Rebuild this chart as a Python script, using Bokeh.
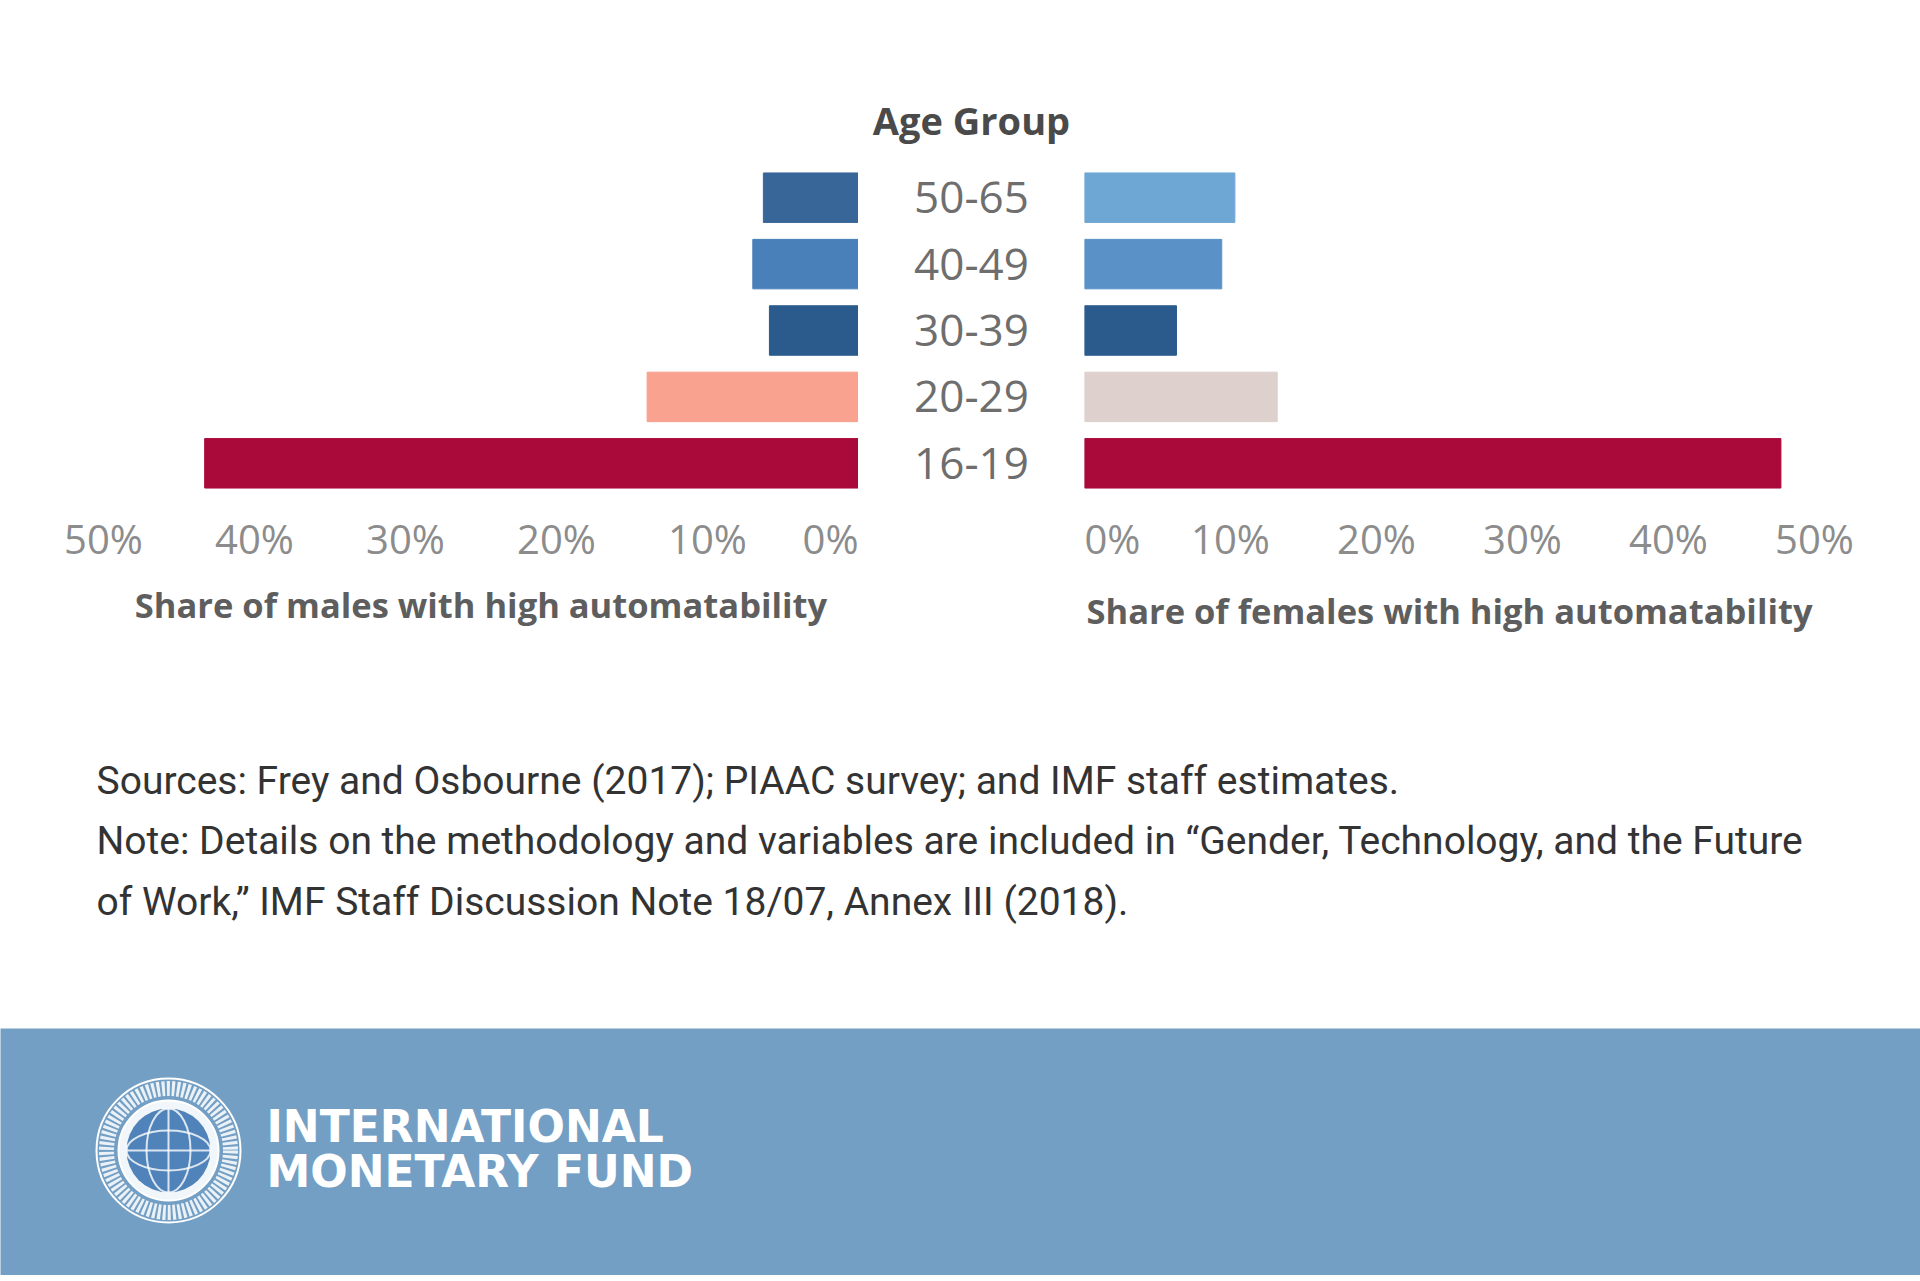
from bokeh.plotting import figure
from bokeh.layouts import column, row
from bokeh.models import Range1d, FactorRange, FixedTicker, PrintfTickFormatter, ColumnDataSource
from bokeh.core.properties import value
from bokeh.embed import file_html
from bokeh.resources import INLINE

# ---------------- data ----------------
ages = ["50-65", "40-49", "30-39", "20-29", "16-19"]
male_share = [6.3, 7.0, 5.9, 14.0, 43.3]
female_share = [10.3, 9.4, 6.3, 13.2, 47.7]
male_colors = ["#386699", "#4a80b9", "#2b5a8d", "#f8a28f", "#aa0a3a"]
female_colors = ["#6fa7d4", "#5a91c6", "#2b5a8d", "#ddd0cd", "#aa0a3a"]
tick_values = [0, 10, 20, 30, 40, 50]
male_title = "Share of males with high automatability"
female_title = "Share of females with high automatability"
center_title = "Age Group"
note_lines = [
    "Sources: Frey and Osbourne (2017); PIAAC survey; and IMF staff estimates.",
    "Note: Details on the methodology and variables are included in \u201cGender, Technology, and the Future",
    "of Work,\u201d IMF Staff Discussion Note 18/07, Annex III (2018).",
]
brand_lines = ["INTERNATIONAL", "MONETARY FUND"]

# ---------------- layout constants ----------------
ROW_H = 700
TOP = 164
BOTTOM = 204
FONT = "Open Sans"

src = ColumnDataSource(dict(age=ages, male=male_share, female=female_share,
                            mc=male_colors, fc=female_colors))
yr = FactorRange(factors=list(reversed(ages)))


def style_axis(p, standoff_label):
    ax = p.xaxis[0]
    ax.ticker = FixedTicker(ticks=tick_values)
    ax.formatter = PrintfTickFormatter(format="%d%%")
    ax.axis_line_color = None
    ax.major_tick_line_color = None
    ax.minor_tick_line_color = None
    ax.major_tick_out = 0
    ax.major_tick_in = 0
    ax.major_label_text_font = FONT
    ax.major_label_text_font_size = "40px"
    ax.major_label_text_color = "#8c8c8c"
    ax.major_label_standoff = 14
    ax.axis_label_text_font = FONT
    ax.axis_label_text_font_size = "34.5px"
    ax.axis_label_text_font_style = "bold"
    ax.axis_label_text_color = "#5e5e5e"
    ax.axis_label_standoff = standoff_label


def base(width, xr, left, right, **kw):
    p = figure(width=width, height=ROW_H, x_range=xr, y_range=yr,
               output_backend="svg", toolbar_location=None,
               min_border_left=left, min_border_right=right,
               min_border_top=TOP, min_border_bottom=BOTTOM, **kw)
    p.outline_line_color = None
    p.grid.visible = False
    p.background_fill_color = "white"
    p.border_fill_color = "white"
    return p


# male panel (reversed axis)
pm = base(858, Range1d(50, 0), 103, 0, y_axis_location=None, x_axis_label=male_title)
pm.hbar(y="age", left=0, right="male", height=0.745, color="mc", source=src)
style_axis(pm, 12)

# centre labels
pc = base(226, Range1d(-1, 1), 0, 0, y_axis_location=None, x_axis_location=None)
pc.text(x=0, y="age", text="age", source=src, text_align="center",
        text_baseline="middle", text_font=value(FONT), text_font_size="44px",
        text_color="#6e6e6e")
pc.title.text = center_title
pc.title.align = "center"
pc.title.text_font = FONT
pc.title.text_font_size = "38px"
pc.title.text_font_style = "bold"
pc.title.text_color = "#4a4a4a"
pc.title.standoff = 37

# female panel
pf = base(836, Range1d(0, 50), 0, 106, y_axis_location=None, x_axis_label=female_title)
pf.hbar(y="age", left=0, right="female", height=0.745, color="fc", source=src)
style_axis(pf, 18)

chart = row(pm, pc, pf, spacing=0)

# notes
NOTES_H = 328
pn = figure(width=1920, height=NOTES_H, x_range=Range1d(0, 1920), y_range=Range1d(NOTES_H, 0),
            output_backend="svg", toolbar_location=None, x_axis_location=None,
            y_axis_location=None, min_border=0)
pn.outline_line_color = None
pn.grid.visible = False
pn.text(x=[96, 96, 96], y=[80, 140.6, 201.2], text=note_lines, text_font=value("Roboto"),
        text_font_size="39px", text_color="#333333", text_baseline="alphabetic")

# footer band
FOOT_H = 247
BLUE = "#739fc5"
pb = figure(width=1920, height=FOOT_H, x_range=Range1d(0, 1920), y_range=Range1d(FOOT_H, 0),
            output_backend="svg", toolbar_location=None, x_axis_location=None,
            y_axis_location=None, min_border=0, background_fill_color=BLUE,
            border_fill_color=BLUE)
pb.outline_line_color = None
pb.grid.visible = False
# emblem
LX, LY = 168, 122
pb.circle(x=[LX], y=[LY], radius=72, fill_color=None, line_color="white", line_width=2)
pb.circle(x=[LX], y=[LY], radius=62, fill_color=None, line_color="white",
          line_width=15, line_dash="3 2", line_alpha=0.85)
pb.circle(x=[LX], y=[LY], radius=50, fill_color="white", fill_alpha=0.9,
          line_color="white", line_width=2)
pb.circle(x=[LX], y=[LY], radius=42, fill_color="#4f83b9", line_color=None)
pb.ellipse(x=[LX, LX], y=[LY, LY], width=[44, 84], height=[84, 40],
           fill_color=None, line_color="white", line_width=2, line_alpha=0.8)
pb.segment(x0=[LX - 42, LX], y0=[LY, LY - 42], x1=[LX + 42, LX], y1=[LY, LY + 42],
           line_color="white", line_width=2, line_alpha=0.8)
pb.text(x=[266, 266], y=[98, 143], text=brand_lines, text_font=value("DejaVu Sans"),
        text_font_size="44px", text_font_style="bold", text_color="white",
        text_baseline="alphabetic")

layout = column(chart, pn, pb, spacing=0)

open("out.html", "w").write(file_html(layout, INLINE))
